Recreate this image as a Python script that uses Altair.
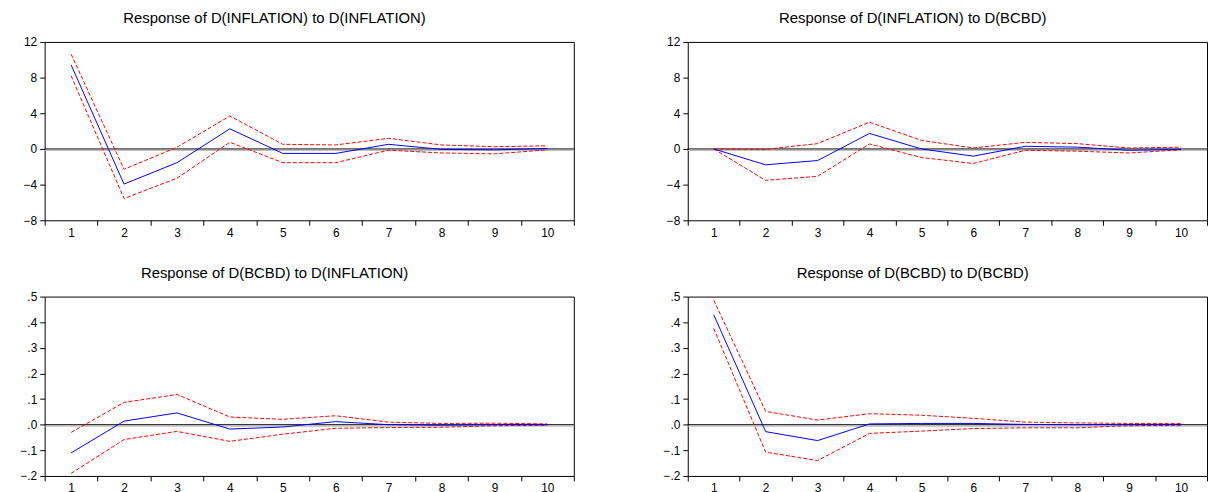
import altair as alt
import pandas as pd

periods = [1, 2, 3, 4, 5, 6, 7, 8, 9, 10]

# Response of D(INFLATION) to D(INFLATION)
p1_resp = [9.42, -3.94, -1.54, 2.26, -0.50, -0.50, 0.52, -0.05, -0.10, 0.05]
p1_up = [10.63, -2.28, 0.19, 3.70, 0.52, 0.45, 1.19, 0.45, 0.25, 0.35]
p1_lo = [8.20, -5.56, -3.28, 0.75, -1.54, -1.54, -0.14, -0.45, -0.55, -0.10]

# Response of D(INFLATION) to D(BCBD)
p2_resp = [0.0, -1.78, -1.30, 1.74, 0.0, -0.81, 0.30, 0.20, -0.15, -0.05]
p2_up = [0.0, -0.05, 0.60, 3.00, 0.96, 0.11, 0.74, 0.60, 0.10, 0.20]
p2_lo = [0.0, -3.52, -3.07, 0.56, -0.96, -1.63, -0.15, -0.25, -0.45, -0.10]

# Response of D(BCBD) to D(INFLATION)
p3_resp = [-0.110, 0.014, 0.046, -0.017, -0.009, 0.012, 0.0, -0.002, 0.0, 0.0]
p3_up = [-0.030, 0.087, 0.118, 0.030, 0.021, 0.035, 0.010, 0.005, 0.006, 0.003]
p3_lo = [-0.190, -0.058, -0.026, -0.065, -0.037, -0.014, -0.011, -0.010, -0.004, -0.002]

# Response of D(BCBD) to D(BCBD)
p4_resp = [0.429, -0.027, -0.062, 0.003, 0.005, 0.005, 0.001, 0.0, 0.0, 0.0]
p4_up = [0.486, 0.052, 0.018, 0.043, 0.037, 0.025, 0.010, 0.007, 0.005, 0.005]
p4_lo = [0.376, -0.107, -0.140, -0.034, -0.025, -0.015, -0.012, -0.012, -0.004, -0.002]

titles = [
    "Response of D(INFLATION) to D(INFLATION)",
    "Response of D(INFLATION) to D(BCBD)",
    "Response of D(BCBD) to D(INFLATION)",
    "Response of D(BCBD) to D(BCBD)",
]

top_ticks = [-8, -4, 0, 4, 8, 12]
bot_ticks = [-0.2, -0.1, 0.0, 0.1, 0.2, 0.3, 0.4, 0.5]

FONT = "Liberation Sans"


def panel(title, resp, up, lo, domain, ticks, label_expr, width, height):
    df = pd.DataFrame({"period": periods, "resp": resp, "up": up, "lo": lo})
    x = alt.X(
        "period:O",
        scale=alt.Scale(type="band", paddingInner=0, paddingOuter=0),
        axis=alt.Axis(title=None, labelAngle=0, tickBand="extent", domain=False,
                      tickSize=5, labelPadding=2, labelFontSize=12),
    )
    yscale = alt.Scale(domain=domain, nice=False, zero=False)
    yaxis = alt.Axis(title=None, values=ticks, grid=False, domain=False, tickSize=5,
                     labelExpr=label_expr, labelFontSize=12, labelPadding=3,
                     minExtent=30, maxExtent=30)
    base = alt.Chart(df)
    zero_df = pd.DataFrame({"z": [0]})
    shadow = alt.Chart(zero_df).mark_rule(color="#b8b8b8", strokeWidth=1, yOffset=1.5).encode(
        y=alt.Y("z:Q", scale=yscale, axis=yaxis))
    zero = alt.Chart(zero_df).mark_rule(color="black", strokeWidth=1).encode(
        y=alt.Y("z:Q", scale=yscale, axis=yaxis))
    upper = base.mark_line(color="#ff0000", strokeWidth=1, strokeDash=[4, 2]).encode(
        x=x, y=alt.Y("up:Q", scale=yscale, axis=yaxis))
    lower = base.mark_line(color="#ff0000", strokeWidth=1, strokeDash=[4, 2]).encode(
        x=x, y=alt.Y("lo:Q", scale=yscale, axis=yaxis))
    mid = base.mark_line(color="#0000ff", strokeWidth=1).encode(
        x=x, y=alt.Y("resp:Q", scale=yscale, axis=yaxis))
    return alt.layer(shadow, zero, upper, lower, mid).properties(
        width=width, height=height,
        title=alt.TitleParams(title, fontSize=15, font=FONT, fontWeight="normal",
                              anchor="middle", dx=-35, offset=10, color="black"),
    )


top_expr = "format(datum.value, 'd')"
bot_expr = "replace(format(datum.value, '.1f'), '0.', '.')"

c1 = panel(titles[0], p1_resp, p1_up, p1_lo, [-8, 12], top_ticks, top_expr, 534, 180)
c2 = panel(titles[1], p2_resp, p2_up, p2_lo, [-8, 12], top_ticks, top_expr, 524, 180)
c3 = panel(titles[2], p3_resp, p3_up, p3_lo, [-0.2, 0.5], bot_ticks, bot_expr, 534, 181)
c4 = panel(titles[3], p4_resp, p4_up, p4_lo, [-0.2, 0.5], bot_ticks, bot_expr, 524, 181)

chart = alt.vconcat(
    alt.hconcat(c1, c2, spacing=83),
    alt.hconcat(c3, c4, spacing=83),
    spacing=26,
).properties(
    padding={"left": 6, "top": 0, "right": 0, "bottom": 0},
    background="white",
).configure_view(
    stroke="black", strokeWidth=1
).configure_axis(
    labelFont=FONT, labelColor="black", tickColor="black"
)

chart.save("out.html", embed_options={"renderer": "svg", "actions": False})
